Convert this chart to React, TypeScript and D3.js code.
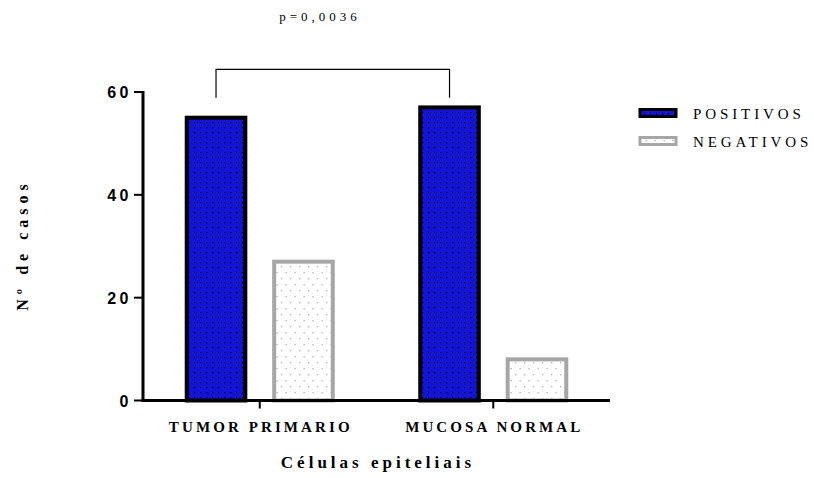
import * as d3 from "d3";

const width = 814;
const height = 478;

const categories = ["TUMOR PRIMARIO", "MUCOSA NORMAL"];
const seriesNames = ["POSITIVOS", "NEGATIVOS"];
const positivos = [55, 57];
const negativos = [27, 8];
const yTicks = [0, 20, 40, 60];
const pLabel = "p=0,0036";
const xTitle = "Células epiteliais";
const yTitle = "Nº de casos";

const serif = "'Liberation Serif', 'Times New Roman', serif";
const sans = "'Liberation Sans', Arial, sans-serif";

const App = () => {
  const x0 = d3.scaleBand().domain(categories).range([143, 610]).paddingInner(0).paddingOuter(0);
  const x1 = d3
    .scaleBand()
    .domain(seriesNames)
    .range([0, x0.bandwidth()])
    .paddingInner(0.33)
    .paddingOuter(0.5);
  const y = d3.scaleLinear().domain([0, 60]).range([400.5, 92]);

  const rows = categories.map((c, i) => ({ cat: c, values: [positivos[i], negativos[i]] }));

  const styles: Record<string, { fill: string; stroke: string }> = {
    POSITIVOS: { fill: "url(#dotsBlue)", stroke: "#000" },
    NEGATIVOS: { fill: "url(#dotsGrey)", stroke: "#a6a6a6" },
  };

  // bracket between the two positive bars
  const bx1 = (x0(categories[0]) ?? 0) + (x1("POSITIVOS") ?? 0) + x1.bandwidth() / 2;
  const bx2 = (x0(categories[1]) ?? 0) + (x1("POSITIVOS") ?? 0) + x1.bandwidth() / 2;
  const bTop = y(64.4);
  const bBot = y(58.9);

  return (
    <svg
      width={width}
      height={height}
      style={{ position: "absolute", left: 0, top: 0, background: "#fff" }}
    >
      <defs>
        <pattern id="dotsBlue" width={6} height={5} patternUnits="userSpaceOnUse">
          <rect width={6} height={5} fill="#1414d4" />
          <rect x={2} y={2} width={1.2} height={1.2} fill="#000" />
        </pattern>
        <pattern id="dotsGrey" width={9} height={12} patternUnits="userSpaceOnUse">
          <rect width={9} height={12} fill="#fff" />
          <rect x={2} y={2} width={1.3} height={1.3} fill="#b0b0b0" />
          <rect x={6.5} y={8} width={1.3} height={1.3} fill="#b0b0b0" />
        </pattern>
        <pattern id="dotsBlueLegend" width={6} height={4} patternUnits="userSpaceOnUse">
          <rect width={6} height={4} fill="#1414d4" />
          <rect x={2} y={1.5} width={1.2} height={1.2} fill="#000" />
        </pattern>
      </defs>

      {/* bars */}
      {rows.map((r) =>
        r.values.map((v, j) => {
          const s = seriesNames[j];
          const bx = (x0(r.cat) ?? 0) + (x1(s) ?? 0);
          return (
            <rect
              key={r.cat + s}
              x={bx}
              y={y(v)}
              width={x1.bandwidth()}
              height={y(0) - y(v)}
              fill={styles[s].fill}
              stroke={styles[s].stroke}
              strokeWidth={4}
            />
          );
        })
      )}

      {/* y axis */}
      <line x1={143} x2={143} y1={y(60) - 1} y2={y(0) + 1.5} stroke="#000" strokeWidth={3} />
      {yTicks.map((t) => (
        <g key={t}>
          <line x1={134} x2={143} y1={y(t)} y2={y(t)} stroke="#000" strokeWidth={2} />
          <text
            x={132}
            y={y(t) + 6}
            textAnchor="end"
            fontFamily={sans}
            fontWeight="bold"
            fontSize={16}
            letterSpacing={3.5}
          >
            {t}
          </text>
        </g>
      ))}

      {/* x axis */}
      <line x1={141.5} x2={610} y1={y(0)} y2={y(0)} stroke="#000" strokeWidth={3} />
      {categories.map((c) => {
        const cx = (x0(c) ?? 0) + x0.bandwidth() / 2;
        return (
          <g key={c}>
            <line x1={cx} x2={cx} y1={y(0)} y2={y(0) + 8} stroke="#000" strokeWidth={2} />
            <text
              x={cx + 1}
              y={432}
              textAnchor="middle"
              fontFamily={serif}
              fontWeight="bold"
              fontSize={15}
              letterSpacing={3.1}
            >
              {c}
            </text>
          </g>
        );
      })}

      {/* titles */}
      <text
        x={378}
        y={468}
        textAnchor="middle"
        fontFamily={serif}
        fontWeight="bold"
        fontSize={17}
        letterSpacing={4}
      >
        {xTitle}
      </text>
      <text
        transform={`translate(28,245) rotate(-90)`}
        textAnchor="middle"
        fontFamily={serif}
        fontWeight="bold"
        fontSize={16}
        letterSpacing={5}
      >
        {yTitle}
      </text>

      {/* significance bracket */}
      <path
        d={`M${bx1},${bBot}V${bTop}H${bx2}V${bBot}`}
        fill="none"
        stroke="#000"
        strokeWidth={1.2}
      />
      <text
        x={320}
        y={21}
        textAnchor="middle"
        fontFamily={serif}
        fontSize={13}
        letterSpacing={4}
      >
        {pLabel}
      </text>

      {/* legend */}
      {seriesNames.map((s, i) => {
        const ly = 108 + i * 28;
        return (
          <g key={s}>
            <rect
              x={640}
              y={ly + 1.5}
              width={36}
              height={7}
              fill={i === 0 ? "url(#dotsBlueLegend)" : "url(#dotsGrey)"}
              stroke={styles[s].stroke}
              strokeWidth={3}
            />
            <text
              x={693}
              y={ly + 11}
              fontFamily={serif}
              fontSize={15}
              letterSpacing={3.9}
            >
              {s}
            </text>
          </g>
        );
      })}
    </svg>
  );
};

export default App;
